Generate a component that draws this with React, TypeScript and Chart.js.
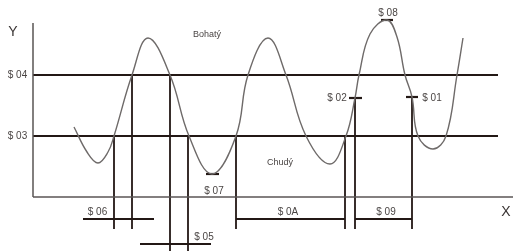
import React, { useEffect, useRef } from "react";
import { Chart, registerables } from "chart.js";

Chart.register(...registerables);

// Coordinate system: origin where the Y and X axes meet.
const levelRich = 122; // $04
const levelPoor = 61; // $03

// The wave (x, y)
const waveX = [41, 54, 65, 75, 81, 99, 115, 137, 156, 179, 203, 215, 235, 253, 273, 297, 313, 322, 326, 337, 354, 364, 372, 379, 385, 400, 413, 424, 430];
const waveY = [70, 45, 34, 45, 61, 122, 159, 122, 61, 23, 61, 122, 159, 122, 61, 33, 61, 99, 122, 163, 177, 160, 122, 100, 61, 48, 61, 122, 159];

// Axes and level lines: [x1, y1, x2, y2]
const axisLines: number[][] = [
  [0, 174, 0, 0],
  [0, 0, 480, 0],
];
const levelLines: number[][] = [
  [0, levelRich, 465, levelRich],
  [0, levelPoor, 465, levelPoor],
];
// Vertical drop lines
const dropLines: number[][] = [
  [81, 61, 81, -32],
  [99, 122, 99, -32],
  [137, 122, 137, -54],
  [155, 61, 155, -54],
  [203, 61, 203, -32],
  [312, 61, 312, -32],
  [322, 99, 322, -32],
  [379, 100, 379, -32],
];
// Interval bars and tick marks
const barLines: number[][] = [
  [50, -22, 121, -22], // $06
  [107, -47, 178, -47], // $05
  [203, -22, 312, -22], // $0A
  [322, -22, 379, -22], // $09
  [173, 23, 186, 23], // $07
  [348, 177, 360, 177], // $08
  [316, 99, 329, 99], // $02
  [373, 100, 385, 100], // $01
];

// Labels: [text, x, y]
const labelTexts = ["$ 04", "$ 03", "Bohatý", "Chudý", "$ 07", "$ 06", "$ 05", "$ 0A", "$ 09", "$ 08", "$ 02", "$ 01"];
const labelX = [-15.5, -15.5, 174, 247, 181, 64.5, 171, 255, 353, 355, 304, 399];
const labelY = [122, 61, 162, 34, 6, -15, -40, -15, -15, 184, 99, 99];
const axisTitles = ["Y", "X"];
const axisTitleX = [-20, 473];
const axisTitleY = [165, -15];

export default function App() {
  const ref = useRef<HTMLCanvasElement | null>(null);

  useEffect(() => {
    document.body.style.margin = "0";
    const canvas = ref.current;
    if (!canvas) return;

    const seg = (l: number[], color: string, width: number) => ({
      data: [
        { x: l[0], y: l[1] },
        { x: l[2], y: l[3] },
      ],
      borderColor: color,
      borderWidth: width,
      pointRadius: 0,
      showLine: true,
      fill: false,
      tension: 0,
      borderCapStyle: "butt" as const,
    });

    const datasets: any[] = [];
    datasets.push({
      data: waveX.map((x, i) => ({ x, y: waveY[i] })),
      borderColor: "#6e6a69",
      borderWidth: 1.4,
      pointRadius: 0,
      showLine: true,
      fill: false,
      tension: 0.4,
    });
    axisLines.forEach((l) => datasets.push(seg(l, "#5a5554", 1.5)));
    levelLines.forEach((l) => datasets.push(seg(l, "#231815", 2.2)));
    dropLines.forEach((l) => datasets.push(seg(l, "#231815", 1.8)));
    barLines.forEach((l) => datasets.push(seg(l, "#231815", 2.2)));

    const textPlugin = {
      id: "texts",
      afterDatasetsDraw(chart: any) {
        const ctx = chart.ctx;
        const xs = chart.scales.x;
        const ys = chart.scales.y;
        ctx.save();
        ctx.textAlign = "center";
        ctx.textBaseline = "middle";
        labelTexts.forEach((t, i) => {
          const small = t === "Bohatý" || t === "Chudý";
          ctx.font = small ? "9px 'Liberation Sans', Arial, sans-serif" : "10px 'Liberation Sans', Arial, sans-serif";
          ctx.fillStyle = "#4a4544";
          ctx.fillText(t, xs.getPixelForValue(labelX[i]), ys.getPixelForValue(labelY[i]));
        });
        axisTitles.forEach((t, i) => {
          ctx.font = "14px 'Liberation Sans', Arial, sans-serif";
          ctx.fillStyle = "#3a3534";
          ctx.fillText(t, xs.getPixelForValue(axisTitleX[i]), ys.getPixelForValue(axisTitleY[i]));
        });
        ctx.restore();
      },
    };

    const chart = new Chart(canvas, {
      type: "scatter",
      data: { datasets },
      options: {
        animation: false,
        responsive: false,
        maintainAspectRatio: false,
        layout: { padding: 0 },
        plugins: { legend: { display: false }, tooltip: { enabled: false } },
        scales: {
          x: { type: "linear", min: -33, max: 480, display: false },
          y: { type: "linear", min: -54, max: 197, display: false },
        },
      },
      plugins: [textPlugin],
    });
    return () => chart.destroy();
  }, []);

  return (
    <div style={{ width: 513, height: 251, background: "#fff" }}>
      <canvas ref={ref} width={513} height={251} />
    </div>
  );
}
